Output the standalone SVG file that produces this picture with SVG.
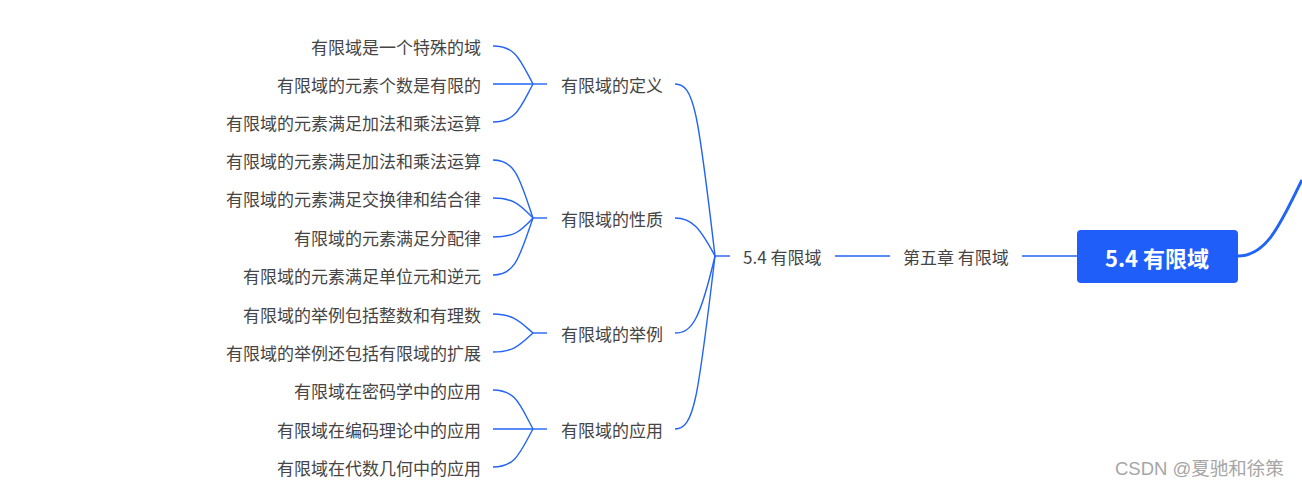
<svg xmlns="http://www.w3.org/2000/svg" width="1302" height="487" viewBox="0 0 1302 487">
<style>
text{font-family:"Noto Sans CJK SC","Noto Sans",sans-serif;font-size:17px;fill:#454545;dominant-baseline:central}
.leaf{text-anchor:end}
.c{fill:none;stroke:#2264f5;stroke-width:1.4}
.root{font-size:22px;font-weight:bold;fill:#fff;text-anchor:middle}
.wm{fill:#a6a6a6;font-size:18.5px;font-family:"Liberation Sans","Noto Sans CJK SC",sans-serif}
</style>
<rect width="1302" height="487" fill="#fff"/>
<g id="connectors">
<path class="c" d="M493,46 C516,46 520,60 533,84"/>
<path class="c" d="M493,84 L533,84"/>
<path class="c" d="M493,122 C516,122 520,108 533,84"/>
<path class="c" d="M533,84 L547,84"/>
<path class="c" d="M493,160 C516,160 520,180 533,218"/>
<path class="c" d="M493,198 C514,198 520,205 533,218"/>
<path class="c" d="M493,237 C514,237 520,232 533,218"/>
<path class="c" d="M493,275 C516,275 520,255 533,218"/>
<path class="c" d="M533,218 L547,218"/>
<path class="c" d="M493,314 C514,314 520,322 533,333"/>
<path class="c" d="M493,352 C514,352 520,345 533,333"/>
<path class="c" d="M533,333 L547,333"/>
<path class="c" d="M493,390 C516,390 520,405 533,429"/>
<path class="c" d="M493,429 L533,429"/>
<path class="c" d="M493,467 C516,467 520,452 533,429"/>
<path class="c" d="M533,429 L547,429"/>
<path class="c" d="M675,84 C694,84 698,110 715,256"/>
<path class="c" d="M675,218 C692,218 700,228 715,256"/>
<path class="c" d="M675,333 C692,333 700,320 715,256"/>
<path class="c" d="M675,429 C694,429 698,400 715,256"/>
<path class="c" d="M715,256 L730,256"/>
<path class="c" d="M835,256 L890,256"/>
<path class="c" d="M1022,256 L1077,256"/>
<path d="M1238,256 C1268,256 1282,220 1302,180" fill="none" stroke="#2264f5" stroke-width="3"/>
</g>
<g id="root"><rect x="1077" y="230" width="161" height="53" rx="4" fill="#1f5ef8"/><text class="root" x="1157" y="256.5">5.4 有限域</text></g>
<g id="ch5"><text x="903" y="256">第五章 有限域</text></g>
<g id="sec54"><text x="743" y="256">5.4 有限域</text></g>
<g id="g1"><text x="561" y="84">有限域的定义</text></g>
<g id="g2"><text x="561" y="218">有限域的性质</text></g>
<g id="g3"><text x="561" y="333">有限域的举例</text></g>
<g id="g4"><text x="561" y="429">有限域的应用</text></g>
<g id="l1"><text class="leaf" x="481" y="46">有限域是一个特殊的域</text></g>
<g id="l2"><text class="leaf" x="481" y="84">有限域的元素个数是有限的</text></g>
<g id="l3"><text class="leaf" x="481" y="122">有限域的元素满足加法和乘法运算</text></g>
<g id="l4"><text class="leaf" x="481" y="160">有限域的元素满足加法和乘法运算</text></g>
<g id="l5"><text class="leaf" x="481" y="198">有限域的元素满足交换律和结合律</text></g>
<g id="l6"><text class="leaf" x="481" y="237">有限域的元素满足分配律</text></g>
<g id="l7"><text class="leaf" x="481" y="275">有限域的元素满足单位元和逆元</text></g>
<g id="l8"><text class="leaf" x="481" y="314">有限域的举例包括整数和有理数</text></g>
<g id="l9"><text class="leaf" x="481" y="352">有限域的举例还包括有限域的扩展</text></g>
<g id="l10"><text class="leaf" x="481" y="390">有限域在密码学中的应用</text></g>
<g id="l11"><text class="leaf" x="481" y="429">有限域在编码理论中的应用</text></g>
<g id="l12"><text class="leaf" x="481" y="467">有限域在代数几何中的应用</text></g>
<text class="wm" x="1115" y="468">CSDN @夏驰和徐策</text>
</svg>
